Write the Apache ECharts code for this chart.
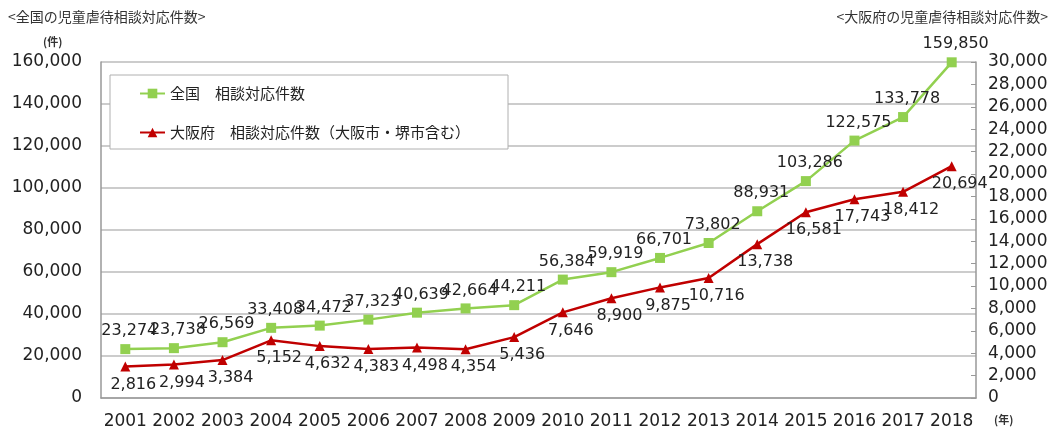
<!DOCTYPE html>
<html><head><meta charset="utf-8">
<script src="https://cdn.jsdelivr.net/npm/echarts@6/dist/echarts.min.js"></script>
<style>html,body{margin:0;padding:0;background:#fff}#c{width:1054px;height:430px}</style>
</head><body><div id="c"></div>
<script>
const years = ['2001','2002','2003','2004','2005','2006','2007','2008','2009','2010','2011','2012','2013','2014','2015','2016','2017','2018'];
const national = [23274,23738,26569,33408,34472,37323,40639,42664,44211,56384,59919,66701,73802,88931,103286,122575,133778,159850];
const osaka = [2816,2994,3384,5152,4632,4383,4498,4354,5436,7646,8900,9875,10716,13738,16581,17743,18412,20694];
const nationalName = '全国　相談対応件数';
const osakaName = '大阪府　相談対応件数（大阪市・堺市含む）';
const leftTitle = '<全国の児童虐待相談対応件数>';
const rightTitle = '<大阪府の児童虐待相談対応件数>';

const fmt = v => v.toLocaleString('en-US');
const NUM = 'DejaVu Sans';
const JP = '"Noto Sans CJK JP"';
const chart = echarts.init(document.getElementById('c'));
chart.setOption({
  animation:false,
  grid:{left:101,right:78,top:62,bottom:32},
  legend:{
    orient:'vertical', left:110, top:75,
    backgroundColor:'#fff', borderColor:'#b0b0b0', borderWidth:1,
    padding:[11,38,9,29], itemGap:24, itemWidth:25, itemHeight:12,
    textStyle:{fontFamily:JP, fontSize:15, color:'#222'},
    data:[nationalName, osakaName]
  },
  xAxis:{
    type:'category', data:years, boundaryGap:true,
    axisLine:{lineStyle:{color:'#999', width:1.5}},
    axisTick:{inside:true, length:5, lineStyle:{color:'#999'}},
    axisLabel:{interval:0, fontFamily:NUM, fontSize:17, color:'#222', margin:15}
  },
  yAxis:[
    {type:'value', min:0, max:160000, interval:20000, position:'left',
     axisLine:{show:true, lineStyle:{color:'#999', width:1.5}},
     axisTick:{show:false},
     splitLine:{lineStyle:{color:'#bbb', width:1.5}},
     axisLabel:{fontFamily:NUM, fontSize:17, color:'#222', margin:19, formatter:fmt}},
    {type:'value', min:0, max:30000, interval:2000, position:'right',
     axisLine:{show:true, lineStyle:{color:'#999', width:1.5}},
     axisTick:{show:true, inside:true, length:5, lineStyle:{color:'#999'}},
     splitLine:{show:false},
     axisLabel:{fontFamily:NUM, fontSize:17, color:'#222', margin:12, formatter:fmt}}
  ],
  series:[
    {name:nationalName, type:'line', data:national, yAxisIndex:0,
     color:'#92D050', symbol:'rect', symbolSize:10,
     lineStyle:{width:2.5, color:'#92D050'}, itemStyle:{color:'#92D050'},
     label:{show:true, position:'top', distance:5, offset:[4,0], fontFamily:NUM, fontSize:16, color:'#222', formatter:p=>fmt(p.value)}},
    {name:osakaName, type:'line', data:osaka, yAxisIndex:1,
     color:'#C00000', symbol:'triangle', symbolSize:10,
     lineStyle:{width:2.5, color:'#C00000'}, itemStyle:{color:'#C00000'},
     label:{show:true, position:'bottom', distance:5, offset:[8,0], fontFamily:NUM, fontSize:16, color:'#222', formatter:p=>fmt(p.value)}}
  ],
  graphic:[
    {type:'text', left:8, top:10, style:{text:leftTitle, font:'14px '+JP, fill:'#333'}},
    {type:'text', right:6, top:10, style:{text:rightTitle, font:'14px '+JP, fill:'#333'}},
    {type:'text', left:43, top:36, style:{text:'(件)', font:'bold 11px '+JP, fill:'#333'}},
    {type:'text', left:994, top:414, style:{text:'(年)', font:'bold 11px '+JP, fill:'#333'}}
  ]
});
</script></body></html>
